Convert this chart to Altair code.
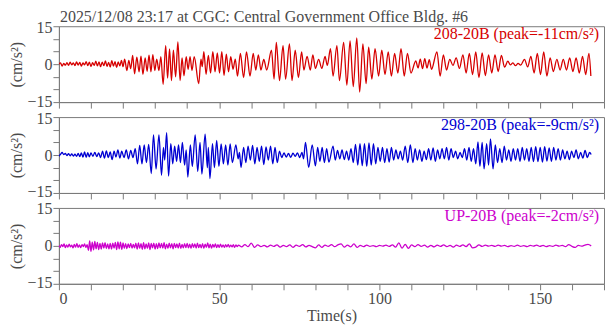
import altair as alt
import pandas as pd

title_text = "2025/12/08 23:17 at CGC: Central Government Office Bldg. #6"
trace_labels = ["208-20B (peak=-11cm/s²)", "298-20B (peak=-9cm/s²)", "UP-20B (peak=-2cm/s²)"]
trace_colors = ["#d60000", "#0000d2", "#cc00cc"]
y_title = "(cm/s²)"
x_title = "Time(s)"
x_ticks = [0, 10, 20, 30, 40, 50, 60, 70, 80, 90, 100, 110, 120, 130, 140, 150, 160, 170]
y_ticks = [-15, -10, -5, 0, 5, 10, 15]

# ---- trace 1 (208-20B) : times (s) and accelerations (cm/s^2) ----
t1 = [0.0, 0.5, 1.0, 1.5, 2.0, 2.5, 3.0, 3.5, 4.0, 4.5, 5.0, 5.5, 6.0, 6.5, 7.0, 7.5, 8.0, 8.5, 9.0, 9.5,
      10.0, 10.5, 11.0, 11.5, 12.0, 12.5, 13.0, 13.5, 14.0, 14.5, 15.0, 15.5, 16.0, 16.5, 17.0, 17.5, 18.0, 18.5, 19.0, 19.5, 20.0,
      20.5, 21.2, 21.8, 22.4, 23.0, 23.6, 24.3, 25.0, 25.6, 26.2, 26.9, 27.5, 28.1, 28.7, 29.3, 29.9,
      30.5, 31.2, 31.8, 32.5, 33.3, 33.9, 34.5, 35.1, 35.7, 36.4, 37.1, 37.8, 38.4, 39.0, 39.7, 40.3, 40.9, 41.5, 42.2, 43.6,
      44.3, 44.7, 45.2, 45.9, 46.6, 47.3, 48.0, 48.7, 49.4, 50.1, 50.8, 51.5, 52.2, 52.9, 53.6, 54.3, 55.0,
      55.7, 56.6, 57.6, 58.5, 59.6, 60.6, 61.4, 62.2, 63.0, 63.9, 64.8,
      66.3, 67.1, 67.8, 68.8, 69.9, 70.7, 71.9, 72.7, 73.7, 74.7, 75.7, 76.4, 77.4, 78.4, 79.2, 80.0, 81.0, 82.0, 83.0, 83.7,
      84.7, 85.5, 86.7, 87.5, 88.8, 89.8, 90.8, 91.8, 92.9, 93.8, 94.8, 95.8, 96.6, 97.6, 98.6, 99.7, 100.7, 101.7, 102.7, 103.7,
      104.7, 105.7, 106.7, 107.7, 108.7, 109.8, 111.3,
      112.0, 112.7, 113.4, 114.1, 114.8, 115.5, 116.2, 117.9, 118.9, 119.9, 120.9, 121.9, 122.9, 123.9, 124.9, 126.0, 127.0,
      128.0, 129.0, 130.0, 131.0, 132.0, 133.0, 134.0, 135.0, 136.0, 137.0, 138.0, 139.0, 140.0, 140.8, 141.6, 142.4, 143.2,
      144.0, 145.2, 146.2, 147.2, 148.2, 149.2, 150.2, 151.2, 152.2, 153.2, 154.2, 155.3, 156.3, 157.3, 158.3, 159.3, 160.3,
      161.3, 162.3, 163.3, 164.3, 165.3, 165.9]
a1 = [0.0, 0.5, -0.8, 0.3, -0.4, 0.6, -0.5, 0.8, -0.3, 0.5, -0.6, 0.9, -0.4, 0.7, -0.8, 0.5, -0.3, 1.0, -0.6, 0.8,
      -0.9, 0.6, -0.5, 1.2, -0.7, 0.9, -1.0, 0.8, -0.6, 1.3, -0.9, 0.7, -1.1, 1.4, -0.8, 1.0, -1.3, 0.9, -0.7, 1.5, -1.0,
      2.0, -2.5, 1.5, -1.8, 3.5, -3.8, 2.8, -3.0, 3.2, -4.0, 2.5, -2.8, 3.6, -3.0, 3.8, -2.5,
      2.0, -2.5, 3.0, -8.0, 7.3, -5.5, 6.0, -6.5, 5.5, -5.0, 8.8, -6.5, 2.5, -4.6, 3.0, -2.0, 3.0, -2.5, 3.0, -7.7,
      2.0, -1.0, 5.0, -4.0, 3.5, -3.5, 5.0, -3.0, 4.5, -3.5, 5.0, -4.5, 4.0, -3.0, 3.0, -2.0, 2.0,
      -4.7, 4.3, -5.3, 4.9, -4.7, 4.3, -2.3, 3.7, -2.3, 1.9, -2.3,
      5.5, -5.9, 8.6, -6.5, 7.3, -5.9, 8.0, -6.5, 5.5, -5.3, 4.9, -2.3, 3.1, -2.3, 3.7, -1.7, 1.9, -1.7, 3.1, -0.5,
      6.1, -4.7, 7.3, -6.5, 8.6, -8.3, 9.2, -8.9, 10.4, -11.0, 8.0, -7.7, 6.7, -5.9, 6.1, -4.7, 5.5, -4.1, 4.9, -4.7,
      4.3, -3.5, 6.1, -4.7, 4.3, -3.5, 1.3,
      -1.5, 2.0, -1.8, 2.2, -1.5, 1.8, -2.0, 4.9, -4.7, 3.7, -2.3, 1.9, -0.5, 2.5, -1.7, 3.7, -3.5,
      4.3, -4.1, 4.9, -5.3, 4.5, -4.5, 3.7, -3.5, 3.7, -2.9, 3.5, -1.2, 1.2, -0.3, 0.5, -0.6, 0.3,
      -0.4, 1.9, -1.1, 3.1, -3.5, 4.3, -4.1, 4.9, -4.7, 2.5, -2.9, 1.9, -2.3, 1.9, -2.3, 2.5, -2.9,
      2.5, -3.5, 3.1, -4.1, 4.3, -4.7]

# ---- trace 2 (298-20B) ----
t2 = [0.0, 0.5, 1.0, 1.5, 2.0, 2.5, 3.0, 3.5, 4.0, 4.5, 5.0, 5.5, 6.0, 6.5, 7.0, 7.5, 8.0, 8.5, 9.0, 9.5, 10.0,
      10.6, 11.2, 11.8, 12.4, 13.0, 13.6, 14.2, 14.8, 15.4, 16.0, 16.6, 17.2, 17.8, 18.4, 19.0, 19.6,
      20.3, 21.0, 21.7, 22.4, 23.1, 23.8, 24.5, 25.2, 25.9, 26.6, 27.3, 28.0,
      28.8, 29.5, 30.3, 31.2, 32.0, 32.6, 33.0, 33.6, 34.2, 34.9, 35.5, 36.1, 36.7, 37.3, 37.9, 38.5, 39.2, 39.7, 40.2, 41.0,
      41.6, 42.5, 43.3, 44.0, 44.6, 45.6, 46.3, 46.6, 47.1, 47.9, 48.5, 49.2, 49.9, 50.6, 51.3, 52.0, 52.7, 53.4, 54.1,
      55.2, 55.9, 56.3, 56.8, 57.6, 58.3, 59.0, 59.7, 60.4, 61.1, 61.8, 62.5, 63.2, 63.9, 64.6, 65.3, 66.0, 66.7, 67.4, 68.1,
      68.8, 69.5, 70.2, 70.9, 71.6, 72.3, 73.0, 73.7, 74.4, 75.1, 75.8, 76.3, 76.9, 77.9, 79.0, 80.0, 80.7, 81.4, 82.1, 82.8,
      83.5, 84.2, 85.5, 86.2, 86.9, 87.6, 88.3, 89.0, 89.7, 90.4, 91.1, 91.8, 92.5, 93.2, 93.9, 94.6, 95.3, 96.0, 96.7, 97.4,
      98.1, 98.8, 99.5, 100.2, 100.9, 101.6, 102.3, 103.0, 103.7, 104.4, 105.1, 105.8, 106.5, 107.2, 108.0, 108.8, 109.6, 110.4,
      111.1, 111.8, 112.5, 113.2, 113.9, 114.6, 115.3, 116.0, 116.7, 117.4, 118.1, 118.8, 119.5, 120.2, 120.9, 121.6, 122.3,
      123.0, 123.7, 124.4, 125.1, 125.8, 126.5, 127.2, 127.9, 128.6, 129.3,
      130.0, 130.7, 131.3, 132.0, 132.6, 133.4, 134.0, 134.6, 135.4, 136.1,
      136.8, 137.5, 138.2, 138.9, 139.6, 140.3, 141.0, 141.7, 142.4, 143.1, 143.8, 144.5, 145.2, 145.9, 146.6, 147.3, 148.0,
      148.7, 149.4, 150.1, 150.8, 151.5, 152.2, 152.9, 153.6, 154.3, 155.0, 155.7, 156.4, 157.1, 157.8, 158.5, 159.2, 159.9,
      160.6, 161.3, 162.0, 162.7, 163.4, 164.1, 164.8, 165.5, 166.0]
a2 = [-0.5, 0.3, 1.0, 0.2, 0.6, -0.2, 0.5, -0.3, 0.4, -0.4, 0.3, -0.5, 0.6, -0.6, 0.8, -0.8, 1.2, -0.9, 0.9, -0.7, 0.8,
      -0.5, 1.0, -0.6, 0.8, -1.0, 1.5, -1.2, 1.6, -1.0, 1.2, -1.8, 1.5, -0.8, 2.0, -1.2, 1.5,
      -1.0, 2.0, -1.5, 1.8, -1.0, 2.5, -3.5, 3.8, -3.5, 4.0, -3.0, 4.2,
      -7.3, 8.0, -5.5, 8.0, -8.0, 3.0, -2.0, 8.8, -8.3, 4.5, -3.5, 3.5, -2.5, 4.0, -3.0, 5.0, -4.0, 2.0, -8.7, 4.0,
      -4.5, 8.0, -6.5, 5.0, -7.5, 8.3, -5.0, 3.0, -9.3, 4.5, -5.0, 5.8, -4.5, 4.4, -3.5, 4.0, -4.0, 4.4, -3.0,
      4.0, -1.5, 1.0, -4.9, 3.0, -3.0, 3.5, -2.0, 3.8, -3.5, 3.0, -2.5, 3.5, -3.8, 3.2, -2.0, 3.5, -3.5, 3.0, -3.0,
      1.5, -1.0, 0.8, -0.8, 0.6, -0.9, 0.7, -0.5, 0.8, -1.0, 1.0, -1.5, 5.0, -4.9, 4.0, -4.3, 3.0, -2.5, 3.0, -3.0,
      2.5, -2.8, 3.5, -2.0, 1.8, -1.5, 2.0, -1.8, 1.5, -2.0, 2.5, -3.0, 4.2, -4.0, 4.5, -4.2, 4.5, -4.5, 4.8, -4.0,
      4.5, -3.5, 3.0, -2.5, 3.0, -3.0, 2.5, -2.8, 3.0, -2.0, 2.0, -1.5, 1.5, -2.0, 3.5, -3.0, 4.0, -3.0,
      2.5, -2.0, 2.0, -2.5, 1.5, -1.8, 2.5, -2.0, 2.8, -2.5, 2.0, -1.5, 2.5, -1.5, 3.0, -2.0, 2.5,
      -1.0, 1.5, -1.5, 1.0, -1.0, 2.5, -2.0, 3.0, -2.5, 2.5,
      -3.5, 5.2, -4.5, 5.0, -5.5, 4.5, -4.0, 6.4, -5.5, 4.0,
      -3.0, 2.5, -3.0, 3.5, -2.0, 2.0, -2.5, 2.5, -2.0, 2.5, -2.5, 3.0, -2.0, 2.5, -2.5, 3.0, -2.6,
      3.3, -2.6, 3.0, -2.8, 3.3, -2.4, 2.8, -2.5, 3.0, -2.0, 2.5, -2.0, 2.0, -1.5, 1.5, -1.8, 1.5,
      -1.0, 2.0, -1.5, 1.0, -1.2, 1.8, -1.0, 1.0, 0.2]

# ---- trace 3 (UP-20B): sampled every 0.4 s up to 55.6 s, then every 1 s ----
a3_fast = [0.2, -0.6, 0.5, -0.3, 0.8, -0.7, 0.4, -0.5, 0.7, -0.4, 0.3, -0.8, 0.6, -0.5, 0.9, -0.6, 0.4, -0.7, 0.5, -0.3, 0.8, -0.6, 0.5,
           -1.8, 2.0, -2.2, 1.5, -1.6, 1.8, -1.2, 1.4, -1.5, 1.0, -1.3, 1.2, -0.9, 1.3, -1.1, 0.8, -1.2, 1.0, -1.3, 1.1, -0.9, 1.4, -1.5, 1.6, -1.2, 1.5, -1.4,
           1.2, -1.0, 0.9, -1.1, 0.8, -0.7, 1.0, -0.9, 0.6, -0.8, 1.1, -1.3, 1.2, -1.0, 0.9, -1.4, 1.3, -1.2, 0.8, -1.0, 1.2, -1.5, 1.0, -0.8, 1.1,
           -1.3, 0.9, -1.1, 1.2, -0.8, 1.0, -0.9, 1.3, -1.2, 0.7, -1.0, 1.1, -0.8, 0.9, -1.2, 1.0, -0.7, 0.8, -0.9, 1.1, -1.0, 0.6, -0.8, 0.9, -0.7,
           1.0, -0.8, 0.7, -1.0, 0.9, -0.6, 0.8, -0.9, 1.1, -0.7, 0.6, -0.8, 0.9, -1.0, 0.7, -0.6, 1.2, -0.8, 0.7, -0.9, 0.6, -0.5, 0.8, -0.7, 0.5,
           -0.6, 0.7, -0.5, 0.4, -0.6, 0.5, -0.4, 0.6, -0.5, 0.3, -0.4, 0.5, -0.6, 0.4, -0.3]
a3_slow = [0.3, -0.4, 0.5, -0.3, 1.1, -0.6, 0.4, -0.3, 0.2, -0.4,
           0.3, -0.2, 0.4, -0.5, 0.2, -0.3, 0.4, -0.6, 0.3, -0.2,
           0.5, -0.4, 0.2, -0.3, -0.8, 0.4, -0.6, 0.3, -0.2, 0.5,
           -0.3, 0.4, 0.8, -0.5, 0.3, -0.4, 0.8, -0.6, 0.2, -0.3,
           0.3, -0.2, 0.1, -0.3, 0.2, -0.1, 0.3, -0.2, 0.4, -0.5,
           1.2, -0.9, 0.6, -1.0, 0.4, -0.3, 0.5, -0.2, 0.3, -0.5,
           0.2, -0.4, 0.3, -0.2, 0.4, -0.3, 0.2, -0.5, 0.3, -0.2,
           0.4, -0.3, 0.8, -0.8, -0.5, 0.4, -0.2, 0.3, -0.1, 0.2,
           -0.2, 0.3, -0.1, 0.2, -0.3, 0.1, -0.2, 0.3, -0.2, 0.1,
           -0.3, 0.2, -0.1, 0.3, -0.2, 0.2, -0.3, 0.1, -0.2, 0.3,
           -0.1, 0.2, -0.3, 0.5, -0.2, -0.6, 0.2, -0.1, 0.3, 0.6, 0.0]
t3 = [round(i * 0.4, 1) for i in range(len(a3_fast))] + [56.0 + i for i in range(len(a3_slow))]
a3 = a3_fast + a3_slow

FONT = "Liberation Serif"
TXT = "#4a4a4a"
FRAME = "#7a7a7a"
FS = 16
W, H = 546, 76


def frame(t, a):
    n = min(len(t), len(a))
    return pd.DataFrame({"t": t[:n], "a": a[:n]})


def panel(t, a, idx, bottom=False, top=False):
    xaxis = alt.Axis(values=x_ticks, labels=bottom, title=x_title if bottom else None,
                     labelExpr="datum.value % 50 == 0 ? datum.label : ''", tickSize=6,
                     labelPadding=1, titlePadding=1)
    yaxis = alt.Axis(values=y_ticks, labelExpr="abs(datum.value) % 15 == 0 ? datum.label : ''",
                     title=y_title, tickSize=6, labelPadding=1, titlePadding=2,
                     labelFlush=True, labelFlushOffset=7)
    line = alt.Chart(frame(t, a)).mark_line(
        color=trace_colors[idx], strokeWidth=1.3, interpolate="monotone", clip=True
    ).encode(
        x=alt.X("t:Q", scale=alt.Scale(domain=[0, 170], nice=False), axis=xaxis),
        y=alt.Y("a:Q", scale=alt.Scale(domain=[-15, 15], nice=False), axis=yaxis),
    )
    lab = alt.Chart(pd.DataFrame({"label": [trace_labels[idx]]})).mark_text(
        align="right", baseline="alphabetic", font=FONT, fontSize=FS, color=trace_colors[idx]
    ).encode(text="label:N", x=alt.value(W - 5), y=alt.value(13))
    layers = [line, lab]
    if top:
        ttl = alt.Chart(pd.DataFrame({"title": [title_text]})).mark_text(
            align="left", baseline="alphabetic", font=FONT, fontSize=FS, color=TXT
        ).encode(text="title:N", x=alt.value(1), y=alt.value(-4))
        layers.append(ttl)
    return alt.layer(*layers).properties(width=W, height=H)


chart = alt.vconcat(
    panel(t1, a1, 0, top=True),
    panel(t2, a2, 1),
    panel(t3, a3, 2, bottom=True),
    spacing=15, bounds="flush",
).properties(padding={"left": 0, "top": 0, "right": 0, "bottom": 0}
).configure_view(stroke=FRAME, strokeWidth=1
).configure_axis(
    grid=False, domainColor=FRAME, tickColor=FRAME, labelFont=FONT, labelFontSize=FS,
    labelColor=TXT, titleFont=FONT, titleFontSize=FS, titleFontWeight="normal", titleColor=TXT,
)

chart.save("out.html", embed_options={"renderer": "svg", "actions": False})
